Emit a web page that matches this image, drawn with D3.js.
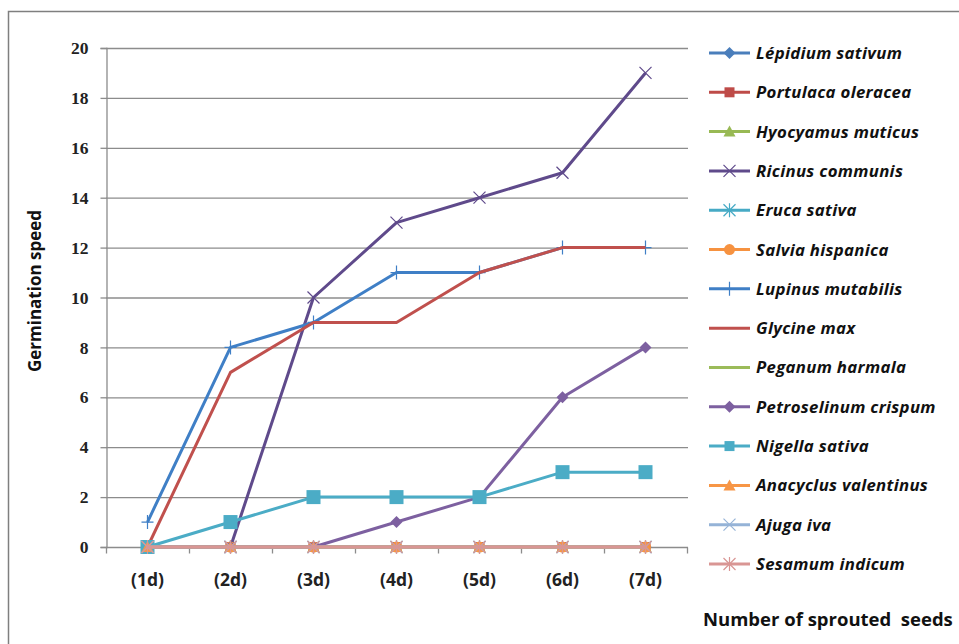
<!DOCTYPE html>
<html>
<head>
<meta charset="utf-8">
<script src="https://cdn.jsdelivr.net/npm/d3@7"></script>
<style>
  html, body { margin: 0; padding: 0; background: #fff; }
  svg { display: block; }
</style>
</head>
<body>
<svg id="chart" width="959" height="644"></svg>
<script>
// Days of observation
const days = ["(1d)", "(2d)", "(3d)", "(4d)", "(5d)", "(6d)", "(7d)"];
const yTicks = [0, 2, 4, 6, 8, 10, 12, 14, 16, 18, 20];

// Germination speed per species, one value per day
const lepidium      = [0, 0, 0, 0, 0, 0, 0];
const portulaca     = [0, 0, 0, 0, 0, 0, 0];
const hyocyamus     = [0, 0, 0, 0, 0, 0, 0];
const ricinus       = [0, 0, 10, 13, 14, 15, 19];
const eruca         = [0, 0, 0, 0, 0, 0, 0];
const salvia        = [0, 0, 0, 0, 0, 0, 0];
const lupinus       = [1, 8, 9, 11, 11, 12, 12];
const glycine       = [0, 7, 9, 9, 11, 12, 12];
const peganum       = [0, 0, 0, 0, 0, 0, 0];
const petroselinum  = [0, 0, 0, 1, 2, 6, 8];
const nigella       = [0, 1, 2, 2, 2, 3, 3];
const anacyclus     = [0, 0, 0, 0, 0, 0, 0];
const ajuga         = [0, 0, 0, 0, 0, 0, 0];
const sesamum       = [0, 0, 0, 0, 0, 0, 0];

const speciesNames = [
  "Lépidium sativum", "Portulaca oleracea", "Hyocyamus muticus", "Ricinus communis",
  "Eruca sativa", "Salvia hispanica", "Lupinus mutabilis", "Glycine max",
  "Peganum harmala", "Petroselinum crispum", "Nigella sativa", "Anacyclus valentinus",
  "Ajuga iva", "Sesamum indicum"
];
const speciesValues = [
  lepidium, portulaca, hyocyamus, ricinus, eruca, salvia, lupinus, glycine,
  peganum, petroselinum, nigella, anacyclus, ajuga, sesamum
];
const speciesColors = [
  "#4a7ebb", "#be4b48", "#98b954", "#5f4a8b", "#46aac5", "#f69240", "#3f7fc6",
  "#c0504d", "#9bbb59", "#7d60a0", "#4bacc6", "#f79646", "#95b3d7", "#d99694"
];
const speciesMarkers = [
  "diamond", "square", "triangle", "x", "star", "circle", "plus",
  "none", "none", "diamond", "bigsquare", "triangle", "x", "star"
];

const sansFont = "'Open Sans', 'Liberation Sans', sans-serif";
const svg = d3.select("#chart");

// Outer frame
svg.append("rect")
  .attr("x", 8.5).attr("y", 11.5).attr("width", 970).attr("height", 660)
  .attr("fill", "none").attr("stroke", "#7f7f7f").attr("stroke-width", 1.5);

const plot = { left: 106, right: 687, top: 48, bottom: 547 };

const x = d3.scaleBand().domain(days).range([plot.left, plot.right]);
const y = d3.scaleLinear().domain([0, 20]).range([plot.bottom, plot.top]);
const cx = d => x(d) + x.bandwidth() / 2;

// Horizontal gridlines
svg.append("g")
  .selectAll("line")
  .data(yTicks.filter(t => t > 0))
  .join("line")
  .attr("x1", plot.left).attr("x2", plot.right + 1)
  .attr("y1", d => y(d) + 0.5).attr("y2", d => y(d) + 0.5)
  .attr("stroke", "#8c8c8c").attr("stroke-width", 1.3);

// Y axis
const yAxis = svg.append("g")
  .attr("transform", `translate(${plot.left + 0.5},0)`)
  .call(d3.axisLeft(y).tickValues(yTicks).tickSize(6).tickPadding(12));
yAxis.select(".domain").attr("stroke", "#8c8c8c").attr("stroke-width", 1.3);
yAxis.selectAll(".tick line").attr("stroke", "#8c8c8c").attr("stroke-width", 1.3);
yAxis.selectAll(".tick text")
  .attr("font-family", "'Liberation Serif', 'DejaVu Serif', serif")
  .attr("font-weight", "bold").attr("font-size", 17.5).attr("fill", "#222");

// X axis with tick marks on category boundaries
const xAxisG = svg.append("g").attr("transform", `translate(0,${plot.bottom + 0.5})`);
xAxisG.append("line")
  .attr("x1", plot.left).attr("x2", plot.right + 1)
  .attr("stroke", "#8c8c8c").attr("stroke-width", 1.3);
xAxisG.selectAll("line.tk")
  .data(d3.range(days.length + 1))
  .join("line").attr("class", "tk")
  .attr("x1", i => plot.left + i * x.step() + 0.5)
  .attr("x2", i => plot.left + i * x.step() + 0.5)
  .attr("y1", 0).attr("y2", 6)
  .attr("stroke", "#8c8c8c").attr("stroke-width", 1.3);
xAxisG.selectAll("text")
  .data(days)
  .join("text")
  .attr("x", d => cx(d)).attr("y", 38)
  .attr("text-anchor", "middle")
  .attr("font-family", sansFont)
  .attr("font-weight", "bold").attr("font-size", 17.5).attr("fill", "#222")
  .text(d => d);

// Axis titles
svg.append("text")
  .attr("transform", "translate(41,291) rotate(-90)")
  .attr("text-anchor", "middle")
  .attr("font-family", sansFont)
  .attr("font-weight", "bold").attr("font-size", 17).attr("fill", "#111")
  .text("Germination speed");

svg.append("text")
  .attr("x", 703).attr("y", 626)
  .attr("font-family", sansFont)
  .attr("font-weight", "bold").attr("font-size", 18.5).attr("fill", "#111")
  .attr("xml:space", "preserve")
  .style("white-space", "pre")
  .text("Number of sprouted  seeds");

// Marker drawing
function drawMarker(g, type, color) {
  switch (type) {
    case "diamond":
      g.append("path").attr("d", "M0,-6L6,0L0,6L-6,0Z").attr("fill", color); break;
    case "square":
      g.append("rect").attr("x", -5).attr("y", -5).attr("width", 10).attr("height", 10).attr("fill", color); break;
    case "bigsquare":
      g.append("rect").attr("x", -7).attr("y", -7).attr("width", 14).attr("height", 14).attr("fill", color); break;
    case "triangle":
      g.append("path").attr("d", "M0,-6L6,5L-6,5Z").attr("fill", color); break;
    case "circle":
      g.append("circle").attr("r", 5.5).attr("fill", color); break;
    case "x":
      g.append("path").attr("d", "M-6,-6L6,6M-6,6L6,-6").attr("stroke", color).attr("stroke-width", 1.2).attr("fill", "none"); break;
    case "star":
      g.append("path").attr("d", "M-6,-6L6,6M-6,6L6,-6M0,-7L0,7").attr("stroke", color).attr("stroke-width", 1.2).attr("fill", "none"); break;
    case "plus":
      g.append("path").attr("d", "M-6,0L6,0M0,-7L0,7").attr("stroke", color).attr("stroke-width", 1.2).attr("fill", "none"); break;
    default: break;
  }
}

const line = d3.line().x((d, i) => cx(days[i])).y(d => y(d));

// Series lines and markers
speciesNames.forEach((name, k) => {
  const vals = speciesValues[k];
  const color = speciesColors[k];
  const g = svg.append("g").attr("class", "series");
  g.append("path")
    .datum(vals)
    .attr("d", line)
    .attr("fill", "none")
    .attr("stroke", color)
    .attr("stroke-width", 3)
    .attr("stroke-linejoin", "round");
  vals.forEach((v, i) => {
    const m = g.append("g").attr("transform", `translate(${cx(days[i])},${y(v)})`);
    drawMarker(m, speciesMarkers[k], color);
  });
});

// Legend
const legend = svg.append("g");
const rowY = d3.scaleLinear().domain([0, speciesNames.length - 1]).range([53, 564]);
speciesNames.forEach((name, k) => {
  const g = legend.append("g").attr("transform", `translate(0,${rowY(k)})`);
  g.append("line")
    .attr("x1", 709).attr("x2", 750)
    .attr("stroke", speciesColors[k]).attr("stroke-width", 3);
  const m = g.append("g").attr("transform", "translate(729.5,0)");
  drawMarker(m, speciesMarkers[k] === "bigsquare" ? "square" : speciesMarkers[k], speciesColors[k]);
  g.append("text")
    .attr("x", 756).attr("y", 6)
    .attr("font-family", sansFont)
    .attr("font-style", "italic").attr("font-weight", "bold")
    .attr("font-size", 16.8).attr("letter-spacing", 0.3).attr("fill", "#111")
    .text(name);
});
</script>
</body>
</html>
